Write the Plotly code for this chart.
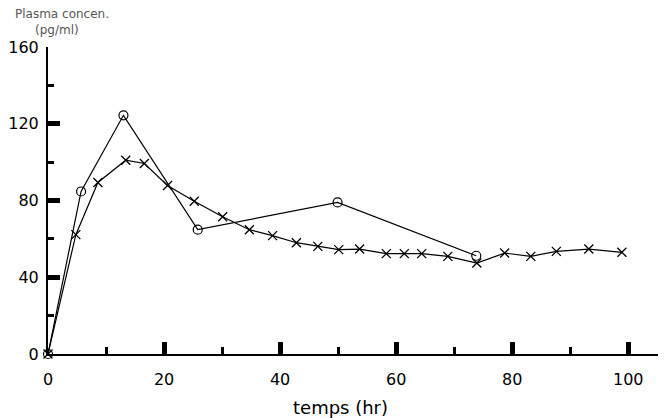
import plotly.graph_objects as go

# Series
circle_t = [0, 5.7, 13.0, 25.8, 49.9, 73.8]
circle_c = [0, 84.7, 124.4, 64.8, 79, 51.2]

cross_t = [0, 4.8, 8.6, 13.4, 16.6, 20.6, 25.2, 30.1, 34.7, 38.7, 42.8, 46.5, 50.1,
           53.7, 58.3, 61.4, 64.4, 68.9, 73.9, 78.7, 83.2, 87.6, 93.2, 98.9]
cross_c = [0, 62.2, 89.4, 101, 99.3, 87.8, 79.6, 71.5, 64.8, 61.7, 58, 56.1, 54.4,
           54.7, 52.3, 52.3, 52.3, 50.9, 47.4, 52.6, 50.9, 53.5, 54.7, 53]

x_ticks = [0, 20, 40, 60, 80, 100]
y_ticks = [0, 40, 80, 120, 160]

fig = go.Figure()
fig.add_trace(go.Scatter(
    x=circle_t, y=circle_c, mode="lines+markers",
    line=dict(color="black", width=1.2),
    marker=dict(symbol="circle-open", size=9, color="black", line=dict(width=1.2)),
    cliponaxis=False, showlegend=False))
fig.add_trace(go.Scatter(
    x=cross_t, y=cross_c, mode="lines+markers",
    line=dict(color="black", width=1.2),
    marker=dict(symbol="x-thin-open", size=9, color="black", line=dict(width=1.3)),
    cliponaxis=False, showlegend=False))

# page has an 8px body margin; figure coordinates are page coordinates minus 8
OFF = 8
W, H = 666 - OFF, 418 - OFF
L, T = 48 - OFF, 47 - OFF
AXIS_Y = 354 - OFF
B = H - AXIS_Y
PW, PH = W - L, H - T - B


def px(x):
    return (x - OFF - L) / PW


def py(y):
    return (AXIS_Y - (y - OFF)) / PH


fig.update_layout(
    width=W, height=H,
    margin=dict(l=L, r=0, t=T, b=B, autoexpand=False),
    paper_bgcolor="white", plot_bgcolor="white",
    font=dict(family="DejaVu Sans", color="black", size=16),
    xaxis=dict(
        range=[0, 106.5], showgrid=False, zeroline=False, automargin=False,
        showline=True, linecolor="black", linewidth=2,
        tickmode="array", tickvals=x_ticks, ticktext=[str(v) for v in x_ticks],
        ticks="inside", ticklen=12, tickwidth=5, tickcolor="black",
        ticklabelstandoff=10,
        minor=dict(tickmode="array", tickvals=[10, 30, 50, 70, 90],
                   ticks="inside", ticklen=7, tickwidth=3, tickcolor="black"),
    ),
    yaxis=dict(
        range=[0, 160], showgrid=False, zeroline=False, automargin=False,
        showline=True, linecolor="black", linewidth=2,
        tickmode="array", tickvals=y_ticks, ticktext=[str(v) for v in y_ticks],
        ticks="inside", ticklen=12, tickwidth=5, tickcolor="black",
        ticklabelstandoff=4,
        minor=dict(tickmode="array", tickvals=[20, 60, 100, 140],
                   ticks="inside", ticklen=6, tickwidth=3, tickcolor="black"),
    ),
    annotations=[
        dict(text="Plasma concen.", xref="paper", yref="paper",
             x=px(13), y=py(14), xanchor="left", yanchor="middle",
             showarrow=False, font=dict(size=12, color="#555")),
        dict(text="(pg/ml)", xref="paper", yref="paper",
             x=px(33), y=py(30), xanchor="left", yanchor="middle",
             showarrow=False, font=dict(size=12, color="#555")),
        dict(text="temps (hr)", xref="paper", yref="paper",
             x=px(340), y=py(407), xanchor="center", yanchor="middle",
             showarrow=False, font=dict(size=18, color="black")),
    ],
)

fig.write_html("out.html")
